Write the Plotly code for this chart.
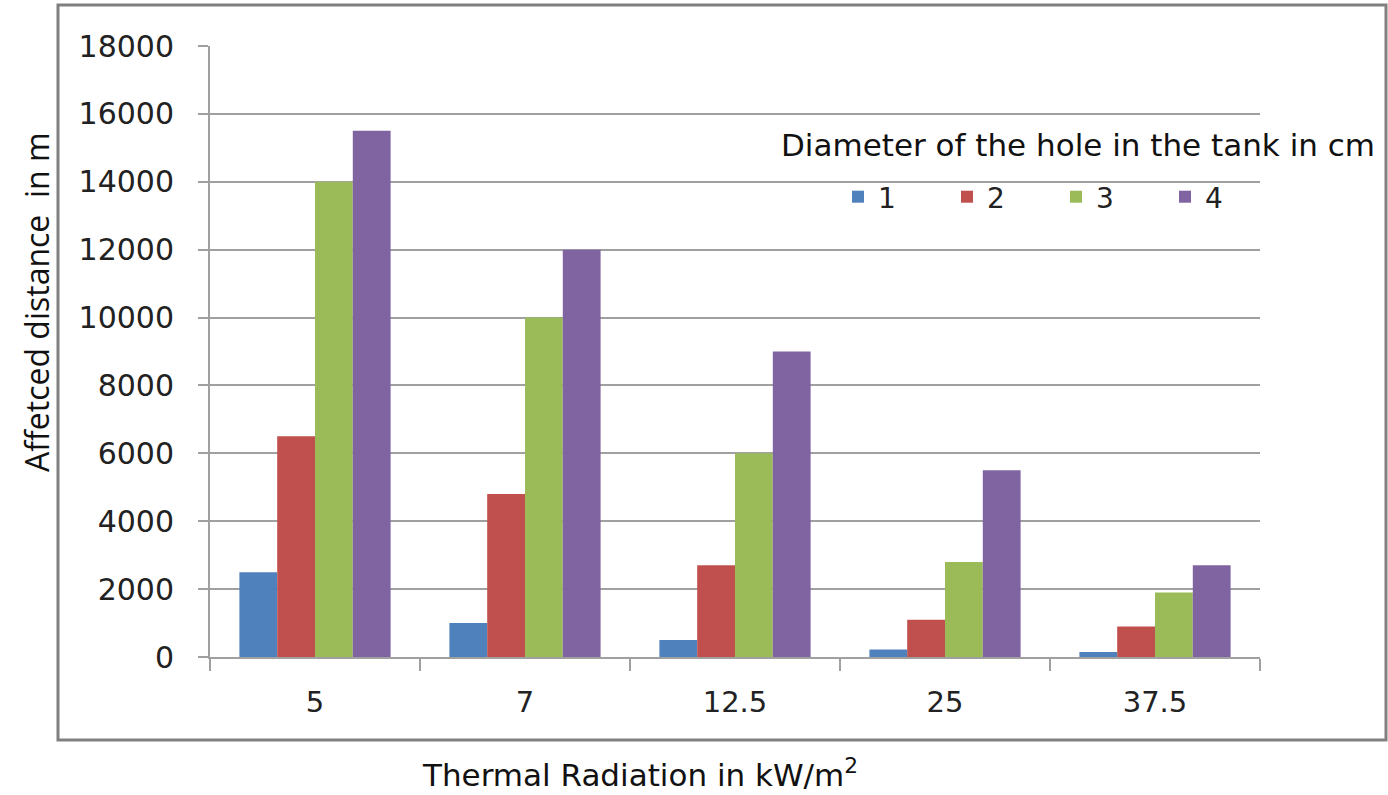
import plotly.graph_objects as go

categories = ["5", "7", "12.5", "25", "37.5"]
series_names = ["1", "2", "3", "4"]
d1 = [2500, 1000, 500, 220, 150]
d2 = [6500, 4800, 2700, 1100, 900]
d3 = [14000, 10000, 6000, 2800, 1900]
d4 = [15500, 12000, 9000, 5500, 2700]
series_values = [d1, d2, d3, d4]
colors = ["#4F81BD", "#C0504D", "#9BBB59", "#8064A2"]
y_ticks = [0, 2000, 4000, 6000, 8000, 10000, 12000, 14000, 16000, 18000]
y_tick_labels = [str(v) for v in y_ticks]

W, H = 1388, 795
L, R, T, B = 210, 128, 46, 138
pw, ph = W - L - R, H - T - B

def px(x):
    return (x - L) / pw

def py(y):
    return (H - B - y) / ph

fig = go.Figure()
for name, vals, c in zip(series_names, series_values, colors):
    fig.add_trace(go.Bar(x=categories, y=vals, name=name,
                         marker=dict(color=c, line=dict(width=0))))

fig.update_layout(
    width=W, height=H,
    margin=dict(l=L, r=R, t=T, b=B, autoexpand=False),
    paper_bgcolor="white", plot_bgcolor="white",
    barmode="group", bargap=0.28, bargroupgap=0,
    showlegend=True,
    legend=dict(orientation="h", x=px(838), y=py(172), xanchor="left", yanchor="top",
                font=dict(family="DejaVu Sans", size=28, color="#222"),
                entrywidth=64, entrywidthmode="pixels",
                bgcolor="rgba(0,0,0,0)", traceorder="normal"),
    font=dict(family="DejaVu Sans", color="#222"),
)
fig.update_xaxes(type="category", showline=True, linecolor="#A0A0A0", linewidth=2,
                 ticks="outside", tickson="boundaries", ticklen=12, tickcolor="#A0A0A0", tickwidth=2,
                 tickfont=dict(family="DejaVu Sans", size=29, color="#222"),
                 ticklabelstandoff=18, showgrid=False)
fig.update_yaxes(range=[0, 18000], tickvals=y_ticks, ticktext=y_tick_labels,
                 showline=True, linecolor="#A0A0A0", linewidth=2,
                 ticks="outside", ticklen=10, tickcolor="#A0A0A0", tickwidth=2,
                 showgrid=True, gridcolor="#A0A0A0", gridwidth=2, zeroline=False,
                 tickfont=dict(family="DejaVu Sans", size=30, color="#222"),
                 ticklabelstandoff=18)

fig.add_shape(type="rect", xref="paper", yref="paper",
              x0=px(58), x1=px(1386), y0=py(740), y1=py(5),
              line=dict(color="#808080", width=3), fillcolor="rgba(0,0,0,0)", layer="below")

fig.add_annotation(text="Diameter of the hole in the tank in cm", xref="paper", yref="paper",
                   x=px(1078), y=py(145), showarrow=False, xanchor="center", yanchor="middle",
                   font=dict(family="DejaVu Sans", size=31, color="#111"))
fig.add_annotation(text="Thermal Radiation in kW/m<sup>2</sup>", xref="paper", yref="paper",
                   x=px(640), y=py(773), showarrow=False, xanchor="center", yanchor="middle",
                   font=dict(family="DejaVu Sans", size=31, color="#111"))
fig.add_annotation(text="Affetced distance  in m", xref="paper", yref="paper",
                   x=px(36), y=py(302), showarrow=False, textangle=-90,
                   xanchor="center", yanchor="middle",
                   font=dict(family="Liberation Sans Narrow, Open Sans", size=32, color="#111"))

fig.write_html("out.html")
